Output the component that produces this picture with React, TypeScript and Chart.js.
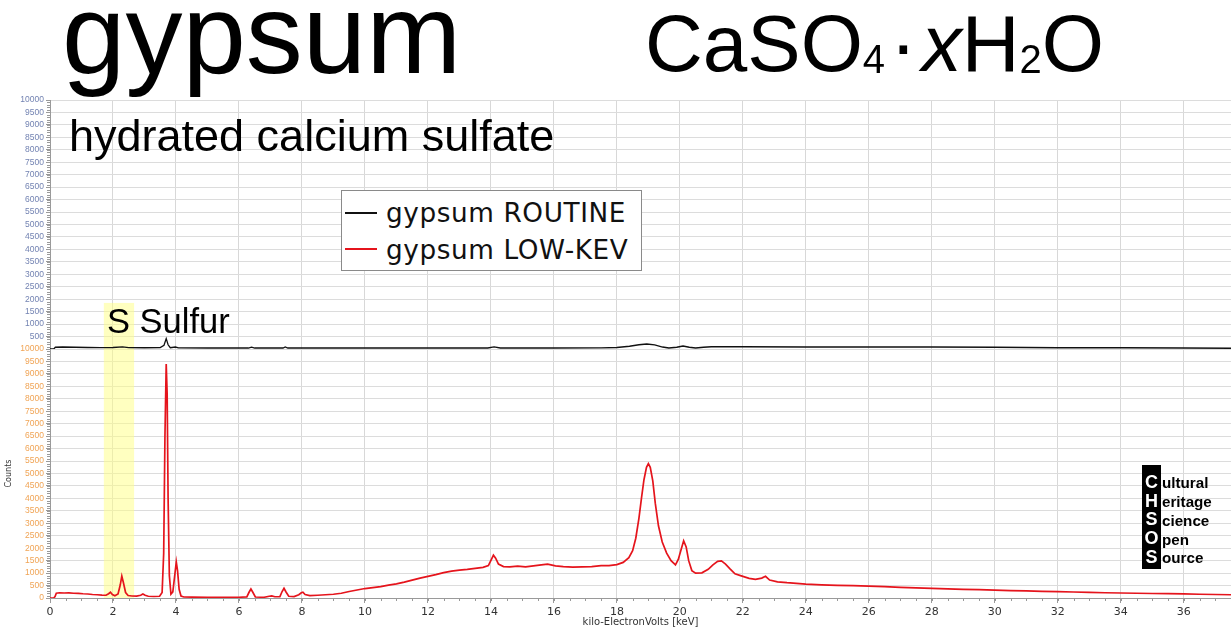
import React, { useEffect, useRef } from 'react';
import { Chart, registerables } from 'chart.js';

Chart.register(...registerables);

// ---------- data ----------
const lowKevEnergy = [
  0.0, 0.12, 0.16, 0.2, 0.3, 0.45, 0.6, 0.75, 0.9, 1.05, 1.2, 1.35, 1.5, 1.65, 1.78, 1.86, 1.92, 1.98, 2.06, 2.16,
  2.23, 2.28, 2.33, 2.4, 2.48, 2.6, 2.75, 2.88, 2.95, 3.02, 3.12, 3.3, 3.48, 3.56, 3.61, 3.65, 3.69, 3.72, 3.75, 3.79,
  3.84, 3.9, 3.96, 4.01, 4.05, 4.1, 4.16, 4.25, 4.5, 5.0, 5.5, 6.0, 6.25, 6.32, 6.38, 6.44, 6.52, 6.8, 6.96, 7.04,
  7.14, 7.3, 7.37, 7.43, 7.49, 7.58, 7.75, 7.9, 7.98, 8.03, 8.1, 8.25, 8.5, 8.75, 9.0, 9.25, 9.5, 9.75, 10.0, 10.25,
  10.5, 10.75, 11.0, 11.25, 11.5, 11.75, 12.0, 12.25, 12.5, 12.75, 13.0, 13.25, 13.5, 13.75, 13.92, 14.02, 14.08, 14.15, 14.24, 14.4,
  14.6, 14.85, 15.1, 15.35, 15.6, 15.8, 16.05, 16.3, 16.6, 16.9, 17.2, 17.5, 17.75, 18.0, 18.2, 18.38, 18.5, 18.6, 18.7, 18.78,
  18.86, 18.94, 19.0, 19.06, 19.14, 19.22, 19.32, 19.44, 19.58, 19.72, 19.86, 19.95, 20.04, 20.12, 20.2, 20.28, 20.38, 20.5, 20.7, 20.9,
  21.05, 21.2, 21.32, 21.45, 21.6, 21.75, 21.95, 22.2, 22.4, 22.6, 22.72, 22.85, 23.1, 23.4, 23.7, 24.0, 24.5, 25.0, 25.5, 26.0,
  26.5, 27.0, 27.5, 28.0, 28.5, 29.0, 29.5, 30.0, 30.5, 31.0, 31.5, 32.0, 32.5, 33.0, 33.5, 34.0, 34.5, 35.0, 35.5, 36.0,
  36.5, 37.0, 37.5,
];
const lowKevCounts = [
  0, 0, 60, 190, 210, 200, 205, 190, 185, 170, 160, 140, 130, 115, 110, 170, 230, 140, 90, 160,
  520, 880, 620, 220, 100, 80, 75, 110, 160, 110, 70, 60, 70, 220, 1800, 6500, 9400, 8200, 4000, 900,
  160, 250, 900, 1450, 1100, 350, 80, 40, 35, 30, 30, 30, 45, 230, 360, 230, 40, 30, 70, 85,
  50, 55, 260, 390, 250, 70, 55, 130, 210, 230, 140, 95, 110, 130, 150, 190, 260, 320, 380, 420,
  460, 520, 570, 640, 720, 800, 870, 940, 1020, 1080, 1120, 1150, 1190, 1230, 1300, 1560, 1720, 1600, 1360, 1260,
  1250, 1280, 1250, 1290, 1330, 1360, 1290, 1260, 1240, 1250, 1260, 1300, 1300, 1340, 1430, 1620, 1900, 2400, 3200, 4000,
  4750, 5250, 5400, 5250, 4700, 3800, 2900, 2250, 1800, 1500, 1330, 1550, 1950, 2300, 2050, 1500, 1100, 1000, 1010, 1150,
  1330, 1470, 1490, 1360, 1160, 970, 890, 790, 750, 800, 870, 720, 650, 615, 590, 560, 530, 510, 495, 480,
  460, 430, 410, 390, 370, 350, 335, 320, 300, 285, 270, 255, 240, 225, 210, 200, 190, 180, 175, 165,
  150, 140, 130,
];

const routineEnergy = [
  0.0, 0.12, 0.17, 0.4, 0.8, 1.2, 1.6, 2.0, 2.3, 2.5, 3.0, 3.5, 3.62, 3.69, 3.75, 3.82, 3.98, 4.08, 5.0, 6.3,
  6.4, 6.5, 7.4, 7.47, 7.55, 10.0, 13.9, 14.1, 14.3, 16.0, 17.5, 18.0, 18.4, 18.7, 18.95, 19.2, 19.45, 19.65, 19.9, 20.1,
  20.3, 20.5, 20.75, 21.0, 22.0, 24.0, 26.0, 28.0, 30.0, 32.0, 34.0, 36.0, 37.5,
];
const routineCounts = [
  0, 0, 70, 80, 70, 60, 55, 60, 85, 55, 50, 55, 150, 420, 170, 50, 80, 45, 40, 40,
  75, 40, 40, 80, 40, 40, 40, 85, 40, 40, 45, 60, 110, 170, 200, 170, 80, 40, 70, 120,
  70, 40, 70, 90, 90, 80, 80, 80, 70, 50, 50, 40, 30,
];

const seriesLabels = ['gypsum ROUTINE', 'gypsum LOW-KEV'];
const seriesColors = ['#111111', '#e5141c'];

const xMin = 0;
const xMax = 37.5;
const xStep = 2;
const yMax = 10000;
const yStep = 500;
const xTitle = 'kilo-ElectronVolts [keV]';
const yTitle = 'Counts';

const sulfurBand = [1.71, 2.67];
const sulfurBandTop = 1850;

const chsosRows = [
  ['C', 'ultural'],
  ['H', 'eritage'],
  ['S', 'cience'],
  ['O', 'pen'],
  ['S', 'ource'],
];

// ---------- plugin: sulfur band + minor ticks ----------
const decorPlugin = {
  id: 'decor',
  beforeDatasetsDraw(chart: any) {
    const { ctx, chartArea, scales } = chart;
    const x = scales.x;
    const yt = scales.yTop;
    const x1 = x.getPixelForValue(sulfurBand[0]);
    const x2 = x.getPixelForValue(sulfurBand[1]);
    const y1 = yt.getPixelForValue(sulfurBandTop);
    ctx.save();
    ctx.fillStyle = 'rgba(255,255,130,0.5)';
    ctx.fillRect(x1, y1, x2 - x1, chartArea.bottom - y1);
    ctx.restore();
  },
  afterDraw(chart: any) {
    const { ctx, chartArea, scales } = chart;
    ctx.save();
    ctx.strokeStyle = '#9a9a9a';
    ctx.lineWidth = 1;
    ctx.beginPath();
    const x = scales.x;
    for (let v = xMin; v <= xMax + 1e-6; v += 0.5) {
      const px = Math.round(x.getPixelForValue(v)) + 0.5;
      ctx.moveTo(px, chartArea.bottom);
      ctx.lineTo(px, chartArea.bottom + 3);
    }
    for (const id of ['yTop', 'yBottom']) {
      const s = scales[id];
      for (let v = 0; v <= yMax; v += 100) {
        const py = Math.round(s.getPixelForValue(v)) + 0.5;
        ctx.moveTo(chartArea.left - 3, py);
        ctx.lineTo(chartArea.left, py);
      }
    }
    ctx.stroke();
    ctx.restore();
  },
};

const tickFont = { family: '"Liberation Sans", Arial, sans-serif', size: 8.5 };

export default function App() {
  const ref = useRef<HTMLCanvasElement>(null);

  useEffect(() => {
    const toPoints = (xs: number[], ys: number[]) => xs.map((v, i) => ({ x: v, y: ys[i] }));
    const chart = new Chart(ref.current as HTMLCanvasElement, {
      type: 'line',
      data: {
        datasets: [
          {
            label: seriesLabels[0],
            data: toPoints(routineEnergy, routineCounts),
            borderColor: seriesColors[0],
            borderWidth: 1.3,
            pointRadius: 0,
            tension: 0,
            yAxisID: 'yTop',
          },
          {
            label: seriesLabels[1],
            data: toPoints(lowKevEnergy, lowKevCounts),
            borderColor: seriesColors[1],
            borderWidth: 1.7,
            pointRadius: 0,
            tension: 0,
            yAxisID: 'yBottom',
          },
        ],
      },
      options: {
        responsive: false,
        maintainAspectRatio: false,
        animation: false,
        layout: { padding: { top: 100, right: 0, bottom: 0, left: 0 } },
        plugins: { legend: { display: false }, tooltip: { enabled: false } },
        scales: {
          x: {
            type: 'linear',
            min: xMin,
            max: xMax,
            ticks: {
              stepSize: xStep,
              includeBounds: false,
              color: '#333',
              font: { family: '"DejaVu Sans", sans-serif', size: 11 },
              padding: 3,
              maxRotation: 0,
              callback: (v: any) => String(v),
            },
            grid: { color: '#d8d8d8', tickLength: 5, tickColor: '#9a9a9a' },
            border: { color: '#9a9a9a' },
            title: {
              display: true,
              text: xTitle,
              color: '#333',
              font: { family: '"DejaVu Sans", sans-serif', size: 10 },
              padding: { top: 0, bottom: -1 },
            },
            afterFit: (s: any) => {
              s.height = 29;
            },
          },
          yBottom: {
            type: 'linear',
            position: 'left',
            stack: 'counts',
            stackWeight: 1,
            min: 0,
            max: yMax,
            ticks: {
              stepSize: yStep,
              autoSkip: false,
              color: '#f0a455',
              font: tickFont,
              padding: 2,
              callback: (v: any) => String(v),
            },
            grid: { color: '#dcdcdc', tickLength: 4, tickColor: '#9a9a9a' },
            border: { color: '#9a9a9a' },
            title: {
              display: true,
              text: yTitle,
              color: '#333',
              font: { family: '"DejaVu Sans", sans-serif', size: 8 },
            },
            afterFit: (s: any) => {
              s.width = 50;
            },
          },
          yTop: {
            type: 'linear',
            position: 'left',
            stack: 'counts',
            stackWeight: 1,
            min: 0,
            max: yMax,
            ticks: {
              stepSize: yStep,
              autoSkip: false,
              color: '#7383b2',
              font: tickFont,
              padding: 2,
              callback: (v: any) => (v === 0 ? '' : String(v)),
            },
            grid: { color: '#dcdcdc', tickLength: 4, tickColor: '#9a9a9a' },
            border: { color: '#9a9a9a' },
            afterFit: (s: any) => {
              s.width = 50;
            },
          },
        },
      },
      plugins: [decorPlugin],
    } as any);
    return () => chart.destroy();
  }, []);

  const sans = '"Liberation Sans", Arial, sans-serif';
  const dejavu = '"DejaVu Sans", Verdana, sans-serif';
  const abs = (left: number, top: number, extra: any = {}) => ({
    position: 'absolute' as const,
    left,
    top,
    whiteSpace: 'nowrap' as const,
    lineHeight: 1,
    ...extra,
  });

  return (
    <div
      style={{
        position: 'fixed',
        left: 0,
        top: 0,
        width: 1231,
        height: 627,
        overflow: 'hidden',
        background: '#fff',
      }}
    >
      <canvas ref={ref} width={1231} height={627} style={{ position: 'absolute', left: 0, top: 0 }} />

      {/* big title */}
      <div style={abs(62, 73 - 0.8465 * 114, { fontFamily: sans, fontSize: 114, color: '#000' })}>gypsum</div>

      {/* formula */}
      <div style={abs(645, 72 - 0.8465 * 80, { fontFamily: sans, fontSize: 80, color: '#000' })}>
        CaSO
        <span style={{ fontSize: 40, position: 'relative', top: 2 }}>4</span>
        <span style={{ marginLeft: 5, marginRight: 5 }}>·</span>
        <span style={{ fontStyle: 'italic' }}>x</span>H
        <span style={{ fontSize: 40, position: 'relative', top: 2 }}>2</span>O
      </div>

      {/* subtitle */}
      <div style={abs(69, 151 - 0.8465 * 45, { fontFamily: sans, fontSize: 45, color: '#000' })}>
        hydrated calcium sulfate
      </div>

      {/* sulfur label */}
      <div style={abs(107, 333 - 0.8465 * 34.5, { fontFamily: sans, fontSize: 34.5, color: '#000' })}>S Sulfur</div>

      {/* legend */}
      <div
        style={{
          position: 'absolute',
          left: 341,
          top: 190,
          width: 299,
          height: 79,
          border: '1px solid #8a8a8a',
          background: '#fff',
        }}
      />
      {seriesLabels.map((lab, i) => (
        <React.Fragment key={lab}>
          <div
            style={{
              position: 'absolute',
              left: 345,
              top: 212 + i * 36,
              width: 32,
              height: 1.5,
              background: seriesColors[i],
            }}
          />
          <div
            style={abs(386, 222.7 + i * 36.6 - 0.846 * 26.3, {
              fontFamily: dejavu,
              fontSize: 26.3,
              letterSpacing: 0.6,
              color: '#111',
            })}
          >
            {lab}
          </div>
        </React.Fragment>
      ))}

      {/* CHSOS logo */}
      <div style={{ position: 'absolute', left: 1142, top: 465, width: 19, height: 104, background: '#000' }} />
      {chsosRows.map((r, i) => {
        const base = 488 + i * 18.8;
        return (
          <React.Fragment key={i}>
            <div
              style={abs(1142, base - 0.8465 * 18, {
                width: 19,
                textAlign: 'center',
                fontFamily: sans,
                fontWeight: 'bold',
                fontSize: 18,
                color: '#fff',
              })}
            >
              {r[0]}
            </div>
            <div
              style={abs(1162, base - 0.8465 * 15.2, {
                fontFamily: sans,
                fontWeight: 'bold',
                fontSize: 15.2,
                color: '#000',
              })}
            >
              {r[1]}
            </div>
          </React.Fragment>
        );
      })}
    </div>
  );
}
